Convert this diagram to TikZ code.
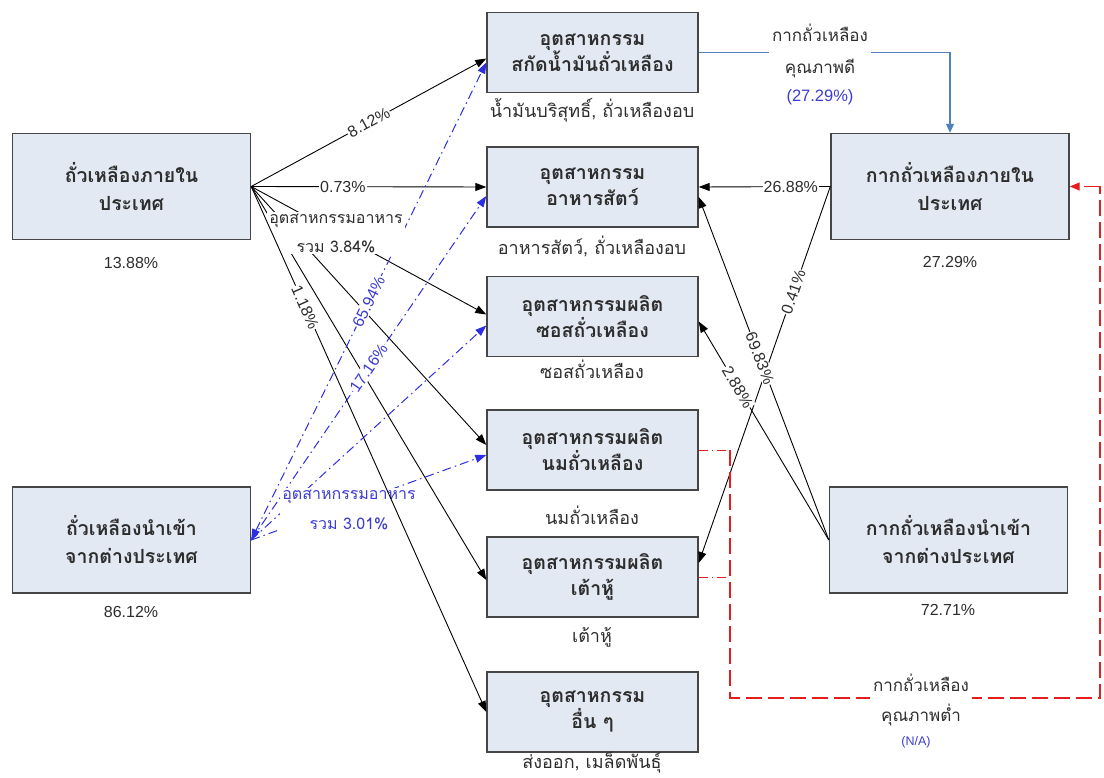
\documentclass[tikz,border=0pt]{standalone}
\usepackage{fontspec}
\setmainfont{Liberation Sans}
\newfontfamily\thfont[Script=Thai]{Loma}
\usetikzlibrary{arrows.meta,calc}
\definecolor{boxfill}{RGB}{227,233,243}
\definecolor{boxline}{RGB}{70,70,70}
\definecolor{txt}{RGB}{45,45,45}
\definecolor{bluedd}{RGB}{45,45,225}
\definecolor{steel}{RGB}{79,129,189}
\definecolor{redd}{RGB}{228,30,30}
\definecolor{labblue}{RGB}{60,60,210}
\begin{document}
\begin{tikzpicture}[x=1pt,y=-1pt,
  bigbox/.style={draw=boxline,line width=1.4pt,fill=boxfill,minimum width=238pt,minimum height=106pt,inner sep=0pt,align=center,text=txt,font=\thfont\bfseries\fontsize{19.5}{28}\selectfont},
  midbox/.style={draw=boxline,line width=1.4pt,fill=boxfill,minimum width=211pt,minimum height=80pt,inner sep=0pt,align=center,text=txt,font=\thfont\bfseries\fontsize{19.5}{26}\selectfont},
  sub/.style={text=txt,font=\thfont\fontsize{18}{20}\selectfont,inner sep=0pt},
  num/.style={text=txt,font=\fontsize{16}{18}\selectfont,inner sep=0pt},
  pct/.style={text=txt,font=\fontsize{16}{18}\selectfont,fill=white,inner sep=1pt},
  bpct/.style={text=labblue,font=\fontsize{16}{18}\selectfont,fill=white,inner sep=1pt},
  tip/.style={-{Triangle[length=11pt,width=8pt]}},
  blk/.style={tip,draw=black,line width=0.9pt},
  bdd/.style={tip,draw=bluedd,line width=1pt,dash pattern=on 9pt off 4pt on 1.5pt off 4pt},
  stl/.style={-{Triangle[length=9pt,width=8pt]},draw=steel,line width=1.2pt},
  rdd/.style={draw=redd,line width=1pt,dash pattern=on 9pt off 4pt on 1.5pt off 4pt},
  rdash/.style={draw=redd,line width=1.2pt,dash pattern=on 16pt off 6pt},
]
\path[use as bounding box] (0,0) rectangle (1104,778);

% boxes
\node[bigbox] (L1) at (131.5,186.5) {ถั่วเหลืองภายใน\\ประเทศ};
\node[bigbox] (L2) at (131.5,540) {ถั่วเหลืองนำเข้า\\จากต่างประเทศ};
\node[bigbox] (R1) at (950,186.5) {กากถั่วเหลืองภายใน\\ประเทศ};
\node[bigbox] (R2) at (948.5,540) {กากถั่วเหลืองนำเข้า\\จากต่างประเทศ};
\node[midbox] (M1) at (592.5,52.5) {อุตสาหกรรม\\สกัดน้ำมันถั่วเหลือง};
\node[midbox] (M2) at (592.5,187) {อุตสาหกรรม\\อาหารสัตว์};
\node[midbox] (M3) at (592.5,316.5) {อุตสาหกรรมผลิต\\ซอสถั่วเหลือง};
\node[midbox] (M4) at (592.5,450) {อุตสาหกรรมผลิต\\นมถั่วเหลือง};
\node[midbox] (M5) at (592.5,577) {อุตสาหกรรมผลิต\\เต้าหู้};
\node[midbox] (M6) at (592.5,712) {อุตสาหกรรม\\อื่น ๆ};

% captions
\node[num] (cL1) at (131,263) {13.88\%};
\node[num] (cL2) at (131,612) {86.12\%};
\node[num] (cR1) at (950,262) {27.29\%};
\node[num] (cR2) at (948,610) {72.71\%};
\node[sub] (cM1) at (592,110) {น้ำมันบริสุทธิ์, ถั่วเหลืองอบ};
\node[sub] (cM2) at (592,247) {อาหารสัตว์, ถั่วเหลืองอบ};
\node[sub] (cM3) at (592,369) {ซอสถั่วเหลือง};
\node[sub] (cM4) at (592,515) {นมถั่วเหลือง};
\node[sub] (cM5) at (592,637) {เต้าหู้};
\node[sub] (cM6) at (592,763) {ส่งออก, เมล็ดพันธุ์};

% domestic soybean (black)
\draw[blk] (L1.east) -- node[pct,sloped,pos=0.5]{8.12\%} ($(M1.west)+(0,6)$);
\draw[blk] (L1.east) -- node[pct,pos=0.39]{0.73\%} (M2.west);
\draw[blk] (L1.east) -- ($(M3.west)+(0,-2)$);
\draw[blk] (L1.east) -- ($(M4.west)+(0,-5)$);
\draw[blk] (L1.east) -- ($(M5.west)+(0,3)$);

% imported soybean (blue dash-dot)
\draw[bdd,{Triangle[length=11pt,width=8pt]}-{Triangle[length=11pt,width=8pt]}] (L2.east) -- node[bpct,sloped,pos=0.5]{65.94\%} ($(M1.west)+(0,10)$);
\draw[bdd] (L2.east) -- node[bpct,sloped,pos=0.5]{17.16\%} ($(M2.west)+(0,9)$);
\draw[bdd] (L2.east) -- ($(M3.west)+(0,9)$);
\draw[bdd] (L2.east) -- ($(M4.west)+(0,5)$);

% meal flows
\draw[blk] (R1.west) -- node[pct,pos=0.3]{26.88\%} (M2.east);
\draw[blk] (R1.west) -- node[pct,sloped,pos=0.28]{0.41\%} ($(M5.east)+(0,-14)$);
\draw[blk] (R2.west) -- node[pct,sloped,pos=0.53]{69.83\%} ($(M2.east)+(0,10)$);
\draw[blk] (R2.west) -- node[pct,sloped,pos=0.7]{2.88\%} ($(M3.east)+(0,5)$);

% group labels
\node[fill=white,inner sep=2pt,align=center,text=txt,font=\thfont\fontsize{16}{29}\selectfont] (food1) at (336,233) {อุตสาหกรรมอาหาร\\รวม 3.84\%};
\node[fill=white,inner sep=2pt,align=center,text=labblue,font=\thfont\fontsize{16}{30}\selectfont] (food2) at (349,510) {อุตสาหกรรมอาหาร\\รวม 3.01\%};

% 1.18% drawn over the blue label
\draw[blk] (L1.east) -- node[pct,sloped,pos=0.23]{1.18\%} (M6.west);

% good-quality meal
\draw[stl] (M1.east) -| (R1.north);
\node[fill=white,inner sep=3pt,align=center,text=txt,font=\thfont\fontsize{17}{32}\selectfont] (good) at (820,51) {กากถั่วเหลือง\\คุณภาพดี};
\node[text=labblue,font=\fontsize{16.5}{18}\selectfont,inner sep=0pt] (goodp) at (820,97) {(27.29\%)};

% low-quality meal
\coordinate (ra) at (730,450);
\coordinate (rb) at (730,577);
\coordinate (rc) at (730,698);
\coordinate (rd) at (1100,698);
\draw[rdd] (M4.east) -- (ra);
\draw[rdd] (M5.east) -- (rb);
\draw[rdash] (ra) -- (rc) -- (rd) -- (rd |- R1.east);
\draw[rdash,-{Triangle[length=10pt,width=8pt]}] (rd |- R1.east) -- (R1.east);
\node[fill=white,inner sep=3pt,align=center,text=txt,font=\thfont\fontsize{17}{30}\selectfont] (low) at (921,700) {กากถั่วเหลือง\\คุณภาพต่ำ};
\node[text=labblue,font=\fontsize{12.5}{14}\selectfont,inner sep=0pt] (lowp) at (916,742) {(N/A)};
\end{tikzpicture}
\end{document}
